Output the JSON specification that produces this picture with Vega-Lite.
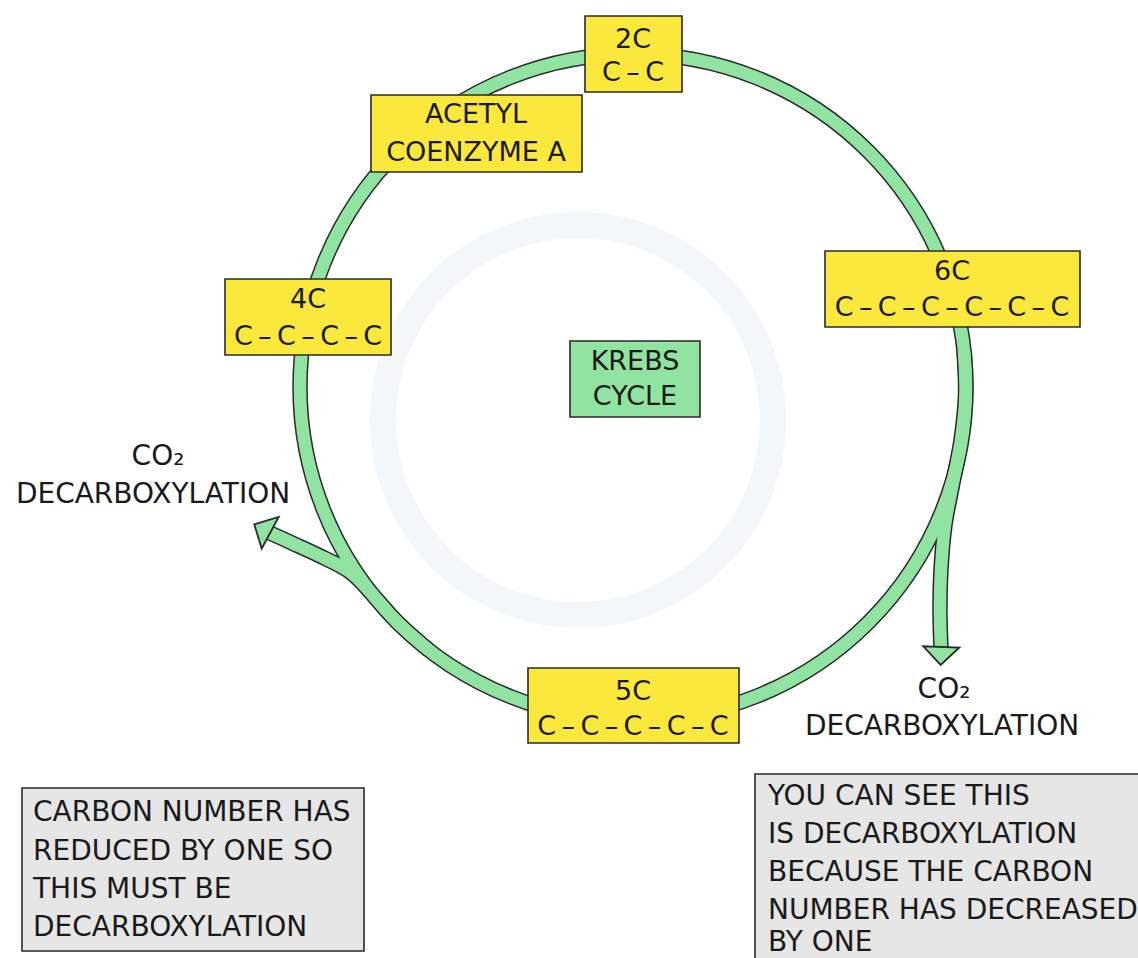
{
  "$schema": "https://vega.github.io/schema/vega-lite/v6.json",
  "autosize": "none",
  "width": 1138,
  "height": 958,
  "padding": 0,
  "background": "white",
  "config": {"view": {"stroke": null}},
  "datasets": {
    "watermark": [{"cx": 578, "cy": 420}],
    "ring": [{"cx": 633, "cy": 387}],
    "branches": [
      {"branch": "right", "i": 0, "x": 963.9, "y": 350},
      {"branch": "right", "i": 1, "x": 965.5, "y": 395},
      {"branch": "right", "i": 2, "x": 961, "y": 440},
      {"branch": "right", "i": 3, "x": 952.5, "y": 485},
      {"branch": "right", "i": 4, "x": 945, "y": 525},
      {"branch": "right", "i": 5, "x": 941, "y": 570},
      {"branch": "right", "i": 6, "x": 940, "y": 612},
      {"branch": "right", "i": 7, "x": 941, "y": 648},
      {"branch": "left", "i": 0, "x": 428.7, "y": 650},
      {"branch": "left", "i": 1, "x": 397.1, "y": 622},
      {"branch": "left", "i": 2, "x": 373, "y": 595},
      {"branch": "left", "i": 3, "x": 350, "y": 572},
      {"branch": "left", "i": 4, "x": 318, "y": 555},
      {"branch": "left", "i": 5, "x": 292, "y": 543},
      {"branch": "left", "i": 6, "x": 270, "y": 533}
    ],
    "heads": [
      {"branch": "right", "x": 941, "y": 655},
      {"branch": "left", "x": 263, "y": 529}
    ],
    "boxes": [
      {"name": "2C", "kind": "stage", "x0": 585, "x1": 682, "y0": 16, "y1": 92},
      {"name": "Acetyl", "kind": "stage", "x0": 371, "x1": 582, "y0": 95, "y1": 172},
      {"name": "6C", "kind": "stage", "x0": 825, "x1": 1080, "y0": 251, "y1": 327},
      {"name": "4C", "kind": "stage", "x0": 225, "x1": 391, "y0": 279, "y1": 355},
      {"name": "Krebs", "kind": "centre", "x0": 570, "x1": 700, "y0": 341, "y1": 417},
      {"name": "5C", "kind": "stage", "x0": 528, "x1": 739, "y0": 668, "y1": 743},
      {"name": "note1", "kind": "note", "x0": 22, "x1": 364, "y0": 788, "y1": 951},
      {"name": "note2", "kind": "note", "x0": 755, "x1": 1150, "y0": 774, "y1": 970}
    ],
    "boxLabels": [
      {"text": "2C", "x": 633, "y": 40},
      {"text": "C\u2009–\u2009C", "x": 633, "y": 73},
      {"text": "ACETYL", "x": 476, "y": 115},
      {"text": "COENZYME A", "x": 476, "y": 153},
      {"text": "6C", "x": 952, "y": 272},
      {"text": "C\u2009–\u2009C\u2009–\u2009C\u2009–\u2009C\u2009–\u2009C\u2009–\u2009C", "x": 952, "y": 308},
      {"text": "4C", "x": 308, "y": 300},
      {"text": "C\u2009–\u2009C\u2009–\u2009C\u2009–\u2009C", "x": 308, "y": 337},
      {"text": "KREBS", "x": 635, "y": 362},
      {"text": "CYCLE", "x": 635, "y": 397},
      {"text": "5C", "x": 633, "y": 692},
      {"text": "C\u2009–\u2009C\u2009–\u2009C\u2009–\u2009C\u2009–\u2009C", "x": 633, "y": 727}
    ],
    "annotations": [
      {"text": "CO₂", "x": 158, "y": 457},
      {"text": "DECARBOXYLATION", "x": 153, "y": 495},
      {"text": "CO₂", "x": 944, "y": 690},
      {"text": "DECARBOXYLATION", "x": 942, "y": 727}
    ],
    "notes": [
      {"text": "CARBON NUMBER HAS", "x": 33, "y": 813},
      {"text": "REDUCED BY ONE SO", "x": 33, "y": 852},
      {"text": "THIS MUST BE", "x": 33, "y": 890},
      {"text": "DECARBOXYLATION", "x": 33, "y": 928},
      {"text": "YOU CAN SEE THIS", "x": 768, "y": 797},
      {"text": "IS DECARBOXYLATION", "x": 768, "y": 835},
      {"text": "BECAUSE THE CARBON", "x": 768, "y": 873},
      {"text": "NUMBER HAS DECREASED", "x": 768, "y": 911},
      {"text": "BY ONE", "x": 768, "y": 943}
    ]
  },
  "layer": [
    {
      "data": {"name": "watermark"},
      "mark": {"type": "point", "shape": "circle", "filled": false, "size": 152100, "stroke": "#f4f7fa", "strokeWidth": 26, "opacity": 1},
      "encoding": {
        "x": {"field": "cx", "type": "quantitative", "scale": {"domain": [0, 1138], "nice": false, "zero": false}, "axis": null},
        "y": {"field": "cy", "type": "quantitative", "scale": {"domain": [958, 0], "nice": false, "zero": false}, "axis": null}
      }
    },
    {
      "data": {"name": "ring"},
      "mark": {"type": "point", "shape": "circle", "filled": false, "size": 443556, "stroke": "#2a2a2a", "strokeWidth": 15.5, "opacity": 1},
      "encoding": {
        "x": {"field": "cx", "type": "quantitative"},
        "y": {"field": "cy", "type": "quantitative"}
      }
    },
    {
      "data": {"name": "branches"},
      "mark": {"type": "line", "interpolate": "catmull-rom", "stroke": "#2a2a2a", "strokeWidth": 15.5, "strokeCap": "butt"},
      "encoding": {
        "x": {"field": "x", "type": "quantitative"},
        "y": {"field": "y", "type": "quantitative"},
        "detail": {"field": "branch"},
        "order": {"field": "i", "type": "quantitative"}
      }
    },
    {
      "data": {"name": "ring"},
      "mark": {"type": "point", "shape": "circle", "filled": false, "size": 443556, "stroke": "#90e3a0", "strokeWidth": 12.5, "opacity": 1},
      "encoding": {
        "x": {"field": "cx", "type": "quantitative"},
        "y": {"field": "cy", "type": "quantitative"}
      }
    },
    {
      "data": {"name": "branches"},
      "mark": {"type": "line", "interpolate": "catmull-rom", "stroke": "#90e3a0", "strokeWidth": 12.5, "strokeCap": "butt"},
      "encoding": {
        "x": {"field": "x", "type": "quantitative"},
        "y": {"field": "y", "type": "quantitative"},
        "detail": {"field": "branch"},
        "order": {"field": "i", "type": "quantitative"}
      }
    },
    {
      "data": {"name": "heads"},
      "transform": [{"filter": "datum.branch === 'right'"}],
      "mark": {"type": "point", "shape": "M-1,0.45L0,-0.55L1,0.45Z", "size": 1300, "filled": true, "fill": "#90e3a0", "stroke": "#2a2a2a", "strokeWidth": 1.8, "angle": 182, "opacity": 1},
      "encoding": {
        "x": {"field": "x", "type": "quantitative"},
        "y": {"field": "y", "type": "quantitative"}
      }
    },
    {
      "data": {"name": "heads"},
      "transform": [{"filter": "datum.branch === 'left'"}],
      "mark": {"type": "point", "shape": "M-1,0.45L0,-0.55L1,0.45Z", "size": 1300, "filled": true, "fill": "#90e3a0", "stroke": "#2a2a2a", "strokeWidth": 1.8, "angle": 298, "opacity": 1},
      "encoding": {
        "x": {"field": "x", "type": "quantitative"},
        "y": {"field": "y", "type": "quantitative"}
      }
    },
    {
      "data": {"name": "boxes"},
      "mark": {"type": "rect", "stroke": "#2a2a2a", "strokeWidth": 1.6},
      "encoding": {
        "x": {"field": "x0", "type": "quantitative"},
        "x2": {"field": "x1"},
        "y": {"field": "y0", "type": "quantitative"},
        "y2": {"field": "y1"},
        "fill": {"field": "kind", "type": "nominal", "scale": {"domain": ["stage", "centre", "note"], "range": ["#fbe83c", "#90e3a0", "#e6e6e6"]}, "legend": null}
      }
    },
    {
      "data": {"name": "boxLabels"},
      "mark": {"type": "text", "font": "DejaVu Sans", "fontSize": 27, "align": "center", "baseline": "middle", "color": "#1a1a1a"},
      "encoding": {
        "x": {"field": "x", "type": "quantitative"},
        "y": {"field": "y", "type": "quantitative"},
        "text": {"field": "text"}
      }
    },
    {
      "data": {"name": "annotations"},
      "mark": {"type": "text", "font": "DejaVu Sans", "fontSize": 28, "align": "center", "baseline": "middle", "color": "#1a1a1a"},
      "encoding": {
        "x": {"field": "x", "type": "quantitative"},
        "y": {"field": "y", "type": "quantitative"},
        "text": {"field": "text"}
      }
    },
    {
      "data": {"name": "notes"},
      "mark": {"type": "text", "font": "DejaVu Sans", "fontSize": 28, "align": "left", "baseline": "middle", "color": "#1a1a1a"},
      "encoding": {
        "x": {"field": "x", "type": "quantitative"},
        "y": {"field": "y", "type": "quantitative"},
        "text": {"field": "text"}
      }
    }
  ]
}
